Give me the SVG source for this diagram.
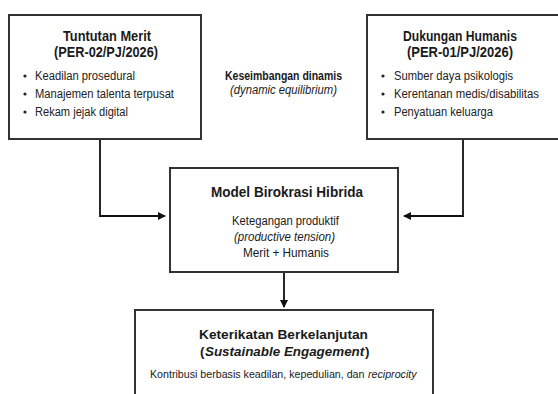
<svg xmlns="http://www.w3.org/2000/svg" width="558" height="394" viewBox="0 0 558 394">
<defs>
<marker id="ah" markerWidth="8" markerHeight="8" refX="7" refY="4" orient="auto" markerUnits="userSpaceOnUse">
<path d="M0,0 L8,4 L0,8 Z" fill="#111"/>
</marker>
<style>
.box{fill:#fff;stroke:#333;stroke-width:2}
.t{font-family:"Liberation Sans",Arial,sans-serif;fill:#1a1a1a;text-anchor:middle}
.s{font-family:"Liberation Sans",Arial,sans-serif;fill:#1a1a1a;text-anchor:start}
.b{font-weight:bold}
.i{font-style:italic}
.l{font-family:"Liberation Sans",Arial,sans-serif;fill:#222;font-size:12.5px}
.dot{fill:#222}
.c{fill:none;stroke:#111;stroke-width:1.8}
</style>
</defs>
<rect width="558" height="394" fill="#fff"/>
<g id="connectors">
<path class="c" d="M100,139 V216 H165" marker-end="url(#ah)"/>
<path class="c" d="M463,139 V216 H404" marker-end="url(#ah)"/>
<path class="c" d="M284,272 V307" marker-end="url(#ah)"/>
</g>
<g id="merit">
<rect class="box" x="9" y="15" width="192" height="124"/>
<text class="t b" x="107" y="41" font-size="14" textLength="88" lengthAdjust="spacingAndGlyphs">Tuntutan Merit</text>
<text class="t b" x="106" y="57" font-size="14" textLength="104" lengthAdjust="spacingAndGlyphs">(PER-02/PJ/2026)</text>
<circle class="dot" cx="25" cy="76" r="1.6"/>
<circle class="dot" cx="25" cy="94" r="1.6"/>
<circle class="dot" cx="25" cy="112" r="1.6"/>
<text class="l" x="35" y="80" textLength="100" lengthAdjust="spacingAndGlyphs">Keadilan prosedural</text>
<text class="l" x="35" y="98" textLength="139" lengthAdjust="spacingAndGlyphs">Manajemen talenta terpusat</text>
<text class="l" x="35" y="116" textLength="93" lengthAdjust="spacingAndGlyphs">Rekam jejak digital</text>
</g>
<g id="humanis">
<rect class="box" x="367" y="15" width="200" height="124"/>
<text class="t b" x="460" y="41" font-size="14" textLength="114" lengthAdjust="spacingAndGlyphs">Dukungan Humanis</text>
<text class="t b" x="460" y="57" font-size="14" textLength="106" lengthAdjust="spacingAndGlyphs">(PER-01/PJ/2026)</text>
<circle class="dot" cx="383" cy="76" r="1.6"/>
<circle class="dot" cx="383" cy="94" r="1.6"/>
<circle class="dot" cx="383" cy="112" r="1.6"/>
<text class="l" x="394" y="80" textLength="119" lengthAdjust="spacingAndGlyphs">Sumber daya psikologis</text>
<text class="l" x="394" y="98" textLength="145" lengthAdjust="spacingAndGlyphs">Kerentanan medis/disabilitas</text>
<text class="l" x="394" y="116" textLength="99" lengthAdjust="spacingAndGlyphs">Penyatuan keluarga</text>
</g>
<g id="equilibrium">
<text class="t b" x="283.5" y="80" font-size="12.5" textLength="117" lengthAdjust="spacingAndGlyphs">Keseimbangan dinamis</text>
<text class="t i" x="283.5" y="94" font-size="12.5" textLength="107" lengthAdjust="spacingAndGlyphs">(dynamic equilibrium)</text>
</g>
<g id="hibrida">
<rect class="box" x="170" y="168" width="228" height="104"/>
<text class="t b" x="287" y="197" font-size="14" textLength="152" lengthAdjust="spacingAndGlyphs">Model Birokrasi Hibrida</text>
<text class="t" x="285.5" y="225" font-size="12.5" textLength="107" lengthAdjust="spacingAndGlyphs">Ketegangan produktif</text>
<text class="t i" x="284.5" y="241" font-size="12.5" textLength="101" lengthAdjust="spacingAndGlyphs">(productive tension)</text>
<text class="t" x="286" y="257" font-size="12.5" textLength="86" lengthAdjust="spacingAndGlyphs">Merit + Humanis</text>
</g>
<g id="engagement">
<rect class="box" x="135" y="310" width="298" height="100"/>
<text class="t b" x="283.5" y="339" font-size="13.7">Keterikatan Berkelanjutan</text>
<text class="s b" x="200" y="356" font-size="13.4">(</text>
<text class="s b i" x="205" y="356" font-size="13.4">Sustainable Engagement</text>
<text class="s b" x="365" y="356" font-size="13.4">)</text>
<text class="s" x="150" y="378" font-size="10.66">Kontribusi berbasis keadilan, kepedulian, dan</text>
<text class="s i" x="368" y="378" font-size="10.66">reciprocity</text>
</g>
</svg>
